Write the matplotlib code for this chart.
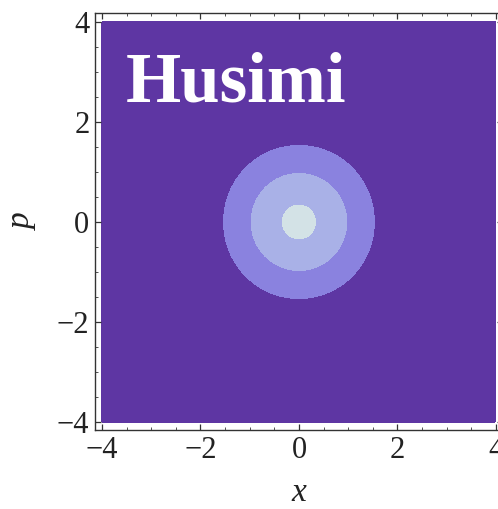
import numpy as np
import matplotlib.pyplot as plt

# Husimi Q function of the vacuum / coherent state centred at the origin
center = (0.0, 0.0)
contour_levels = [0.0, 0.31, 0.625, 0.945, 1.01]
band_colors = ["#5e36a3", "#8a82df", "#a9b1e7", "#d3e2e6"]
xticks = [-4, -2, 0, 2, 4]
yticks = [-4, -2, 0, 2, 4]

xs = np.linspace(-4, 4, 1201)
X, P = np.meshgrid(xs, xs)
Q = np.exp(-((X - center[0]) ** 2 + (P - center[1]) ** 2) / 2)

fig = plt.figure(figsize=(4.98, 5.09), dpi=100)
ax = fig.add_axes([0.1908, 0.1552, 0.819, 0.8193])

ax.contourf(X, P, Q, levels=contour_levels, colors=band_colors)
ax.set_xlim(-4.14, 4.14)
ax.set_ylim(-4.16, 4.18)

serif = ["Liberation Serif", "DejaVu Serif"]
ax.set_xticks(xticks)
ax.set_yticks(yticks)
ax.set_xticklabels([f"{t}".replace("-", "\u2212") for t in xticks], family=serif, fontsize=22)
ax.set_yticklabels([f"{t}".replace("-", "\u2212") for t in yticks], family=serif, fontsize=22)
ax.set_xticks(np.arange(-4, 4.01, 0.5), minor=True)
ax.set_yticks(np.arange(-4, 4.01, 0.5), minor=True)
ax.tick_params(which="both", direction="in", top=True, right=True, color="#333333")
ax.tick_params(which="major", length=4, width=0.9, pad=4)
ax.tick_params(which="minor", length=2.2, width=0.6)
ax.tick_params(axis="x", labelcolor="#222222")
ax.tick_params(axis="y", labelcolor="#222222")
for s in ax.spines.values():
    s.set_color("#333333")
    s.set_linewidth(1.0)

ax.set_xlabel("x", family=serif, style="italic", fontsize=24, labelpad=9, color="#222222")
ax.set_ylabel("p", family=serif, style="italic", fontsize=24, labelpad=14, color="#222222")

ax.text(-3.51, 2.4, "Husimi", family=serif, fontweight="bold", color="white",
        fontsize=51, va="baseline", ha="left")

fig.savefig("out.png", dpi=100)
